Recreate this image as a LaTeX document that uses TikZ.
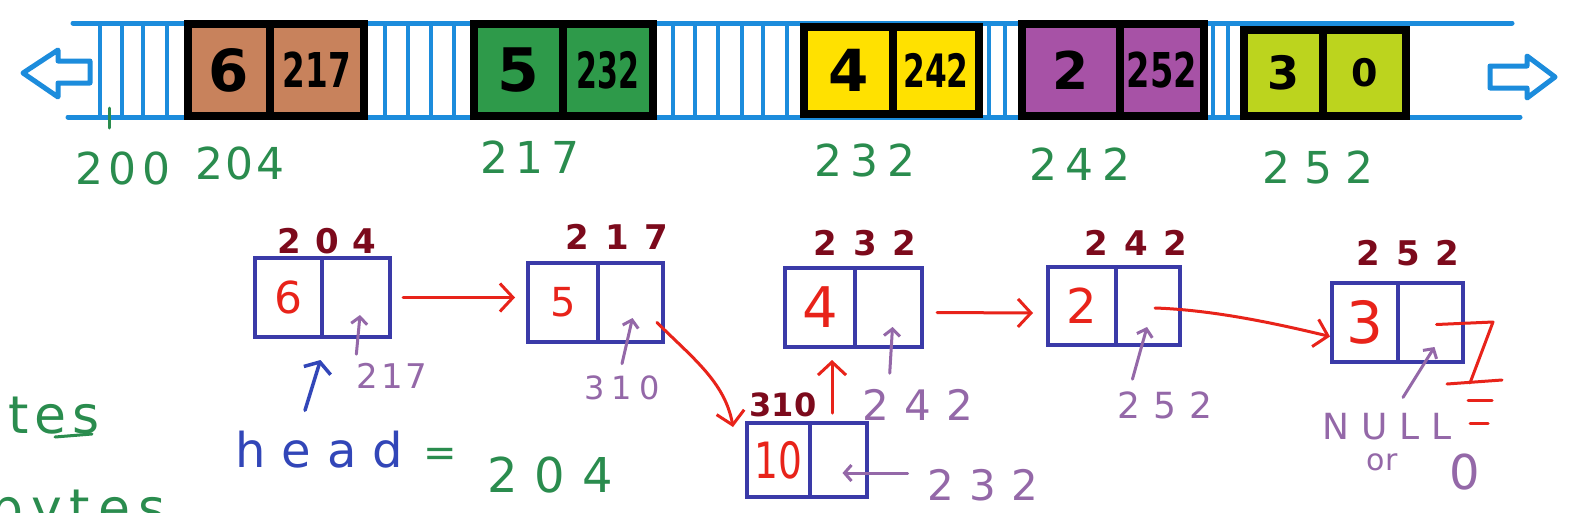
\documentclass[tikz,border=0pt]{standalone}
\usepackage{fontspec}
\setmainfont{DejaVu Sans}
\usetikzlibrary{arrows.meta,calc}
\definecolor{stripblue}{HTML}{1C8CDC}
\definecolor{cbrown}{HTML}{C8825C}
\definecolor{cgreen}{HTML}{2E9A4A}
\definecolor{cyellow}{HTML}{FFE100}
\definecolor{cpurple}{HTML}{A752A6}
\definecolor{clime}{HTML}{BCD41E}
\definecolor{lblgreen}{HTML}{2A8C4E}
\definecolor{darkred}{HTML}{7C0A1C}
\definecolor{linkred}{HTML}{E8231A}
\definecolor{annpurple}{HTML}{9468A8}
\definecolor{boxblue}{HTML}{3A3AA8}
\definecolor{headblue}{HTML}{3246B8}
\newcommand\fs[1]{\fontsize{#1}{#1}\selectfont}
\ExplSyntaxOn
\bool_new:N \l_sp_first_bool
\NewDocumentCommand\spaced{mm}{
  \bool_set_true:N \l_sp_first_bool
  \tl_map_inline:nn {#2}{
    \bool_if:NF \l_sp_first_bool {\kern #1\relax}
    \bool_set_false:N \l_sp_first_bool
    ##1
  }
}
\ExplSyntaxOff
\tikzset{
 blk/.style={draw=black, line width=8pt, inner sep=0pt, outer sep=0pt, anchor=north west, font=\bfseries},
 cell/.style={draw=boxblue, line width=3.5pt, inner sep=0pt, outer sep=0pt, anchor=north west, text=linkred},
 link/.style={draw=linkred, line width=3pt, line cap=round, -{Straight Barb[length=13pt,width=28pt]}},
 ann/.style={draw=annpurple, line width=3pt, line cap=round, -{Straight Barb[length=7pt,width=16pt]}},
 headarrow/.style={draw=headblue, line width=3.5pt, line cap=round, -{Straight Barb[length=9pt,width=28pt]}},
 addr/.style={text=lblgreen, inner sep=0pt},
 nlabel/.style={text=darkred, inner sep=0pt, font=\bfseries},
 plabel/.style={text=annpurple, inner sep=0pt},
 stripe/.style={draw=stripblue, line width=3.5pt},
 rail/.style={draw=stripblue, line width=5pt, line cap=round, line join=round},
 gnd/.style={draw=linkred, line width=3pt, line cap=round, line join=round},
}
\begin{document}
\begin{tikzpicture}[x=1pt,y=-1pt]
\useasboundingbox (0,0) rectangle (1587,512);
\fill[white] (0,0) rectangle (1587,512);
\clip (0,0) rectangle (1587,512);

% memory strip
\draw[rail] (73,23) -- (1512,23);
\draw[rail] (68,117) -- (1520,117);
\foreach \x in {100,122,143,167,385,408,431,454,673,695,718,742,763,787,989,1005,1213,1228}
  \draw[stripe] (\x,23) -- (\x,117);
\draw[rail] (23,73) -- (58,50) -- (58,61) -- (90,61) -- (90,83) -- (58,83) -- (58,97) -- cycle;
\draw[rail] (1490,66) -- (1527,66) -- (1527,56) -- (1555,77) -- (1527,98) -- (1527,88) -- (1490,88) -- cycle;

% memory blocks
\node[blk, fill=cbrown, minimum width=82, minimum height=92] (m204v) at (188,24) {\fs{58}6};
\node[blk, fill=cbrown, minimum width=94, minimum height=92] (m204p) at (m204v.north east) {\scalebox{0.68}[1]{\fs{48}217}};
\node[blk, fill=cgreen, minimum width=89, minimum height=92] (m217v) at (474,24) {\fs{60}5};
\node[blk, fill=cgreen, minimum width=90, minimum height=92] (m217p) at (m217v.north east) {\scalebox{0.6}[1]{\fs{50}232}};
\node[blk, fill=cyellow, minimum width=89, minimum height=87] (m232v) at (804,27) {\fs{58}4};
\node[blk, fill=cyellow, minimum width=86, minimum height=87] (m232p) at (m232v.north east) {\scalebox{0.68}[1]{\fs{46}242}};
\node[blk, fill=cpurple, minimum width=98, minimum height=92] (m242v) at (1022,24) {\fs{52}2};
\node[blk, fill=cpurple, minimum width=84, minimum height=92] (m242p) at (m242v.north east) {\scalebox{0.7}[1]{\fs{48}252}};
\node[blk, fill=clime, minimum width=79, minimum height=86] (m252v) at (1244,30) {\fs{46}3};
\node[blk, fill=clime, minimum width=83, minimum height=86] (m252p) at (m252v.north east) {\fs{38}0};

% addresses under strip
\draw[lblgreen, line width=3pt, line cap=round] (109,108) -- (109,128);
\node[addr] (g200) at (123,168) {\fs{44}\spaced{6pt}{200}};
\node[addr] (g204) at (240,163) {\fs{44}\spaced{3pt}{204}};
\node[addr] (g217) at (530,157) {\fs{44}\spaced{8pt}{217}};
\node[addr] (g232) at (865,160) {\fs{44}\spaced{9pt}{232}};
\node[addr] (g242) at (1080,164) {\fs{44}\spaced{9pt}{242}};
\node[addr] (g252) at (1318,167) {\fs{44}\spaced{14pt}{252}};

% linked list nodes
\node[cell, minimum width=67, minimum height=79] (v204) at (255,258) {\fs{44}6};
\node[cell, minimum width=68, minimum height=79] (p204) at (v204.north east) {};
\node[cell, minimum width=70, minimum height=79] (v217) at (528,263) {\fs{40}5};
\node[cell, minimum width=65, minimum height=79] (p217) at (v217.north east) {};
\node[cell, minimum width=70, minimum height=79] (v232) at (785,268) {\fs{56}4};
\node[cell, minimum width=67, minimum height=79] (p232) at (v232.north east) {};
\node[cell, minimum width=63, minimum height=74] (v310) at (747,423) {\scalebox{0.75}[1]{\fs{50}10}};
\node[cell, minimum width=57, minimum height=74] (p310) at (v310.north east) {};
\node[cell, minimum width=68, minimum height=78] (v242) at (1048,267) {\fs{48}2};
\node[cell, minimum width=64, minimum height=78] (p242) at (v242.north east) {};
\node[cell, minimum width=66, minimum height=79] (v252) at (1332,283) {\fs{58}3};
\node[cell, minimum width=65, minimum height=79] (p252) at (v252.north east) {};

% address labels above nodes
\node[nlabel] (a204) at (327,241) {\fs{34}\spaced{14pt}{204}};
\node[nlabel] (a217) at (617,237) {\fs{34}\spaced{16pt}{217}};
\node[nlabel] (a232) at (865,243) {\fs{34}\spaced{16pt}{232}};
\node[nlabel] (a242) at (1136,243) {\fs{34}\spaced{16pt}{242}};
\node[nlabel] (a252) at (1408,253) {\fs{34}\spaced{16pt}{252}};
\node[nlabel] (a310) at (783,405) {\fs{32}310};

% links
\draw[link] ($(p204.east)+(13,0)$) -- ($(v217.west)+(-13,-5)$);
\draw[link] ($(p217.east)+(-6,20)$) .. controls +(35,35) and +(-8,-45) .. ($(v310.north west)+(-14,4)$);
\draw[link] ($(p310.north west)+(22,-10)$) -- ($(v232.south)+(12,13)$);
\draw[link] ($(p232.east)+(15,5)$) -- ($(v242.west)+(-15,7)$);
\draw[link] ($(p242.center)+(7,2)$) .. controls +(60,2) and +(-50,-12) .. ($(v252.west)+(-2,14)$);

% null ground
\coordinate (gs) at ($(p252.center)+(6,2)$);
\coordinate (g1) at (1493,322);
\coordinate (g2) at (1470,383);
\draw[gnd] (gs) -- (g1) -- (g2);
\draw[gnd] (1447,384) -- (1502,380);
\draw[gnd] (1468,400) -- (1492,400);
\draw[gnd] (1470,423) -- (1488,423);

% purple annotations
\node[plabel] (l217) at (392,376) {\fs{34}\spaced{3pt}{217}};
\node[plabel] (l310) at (622,388) {\fs{32}\spaced{7pt}{310}};
\node[plabel] (l242) at (918,405) {\fs{42}\spaced{15pt}{242}};
\node[plabel] (l232) at (983,485) {\fs{42}\spaced{15pt}{232}};
\node[plabel] (l252) at (1165,405) {\fs{36}\spaced{13pt}{252}};
\node[plabel] (lnull) at (1387,427) {\fs{36}\spaced{12pt}{NULL}};
\node[plabel] (lor) at (1382,462) {\fs{30}or};
\node[plabel] (lzero) at (1465,472) {\fs{48}0};
\draw[ann] ($(l217.north west)+(0,-9)$) -- ($(p204.south)+(4,-22)$);
\draw[ann] ($(l310.north)+(0,-12)$) -- ($(p217.south)+(2,-24)$);
\draw[ann] ($(l242.north west)+(27,-16)$) -- ($(p232.south)+(4,-20)$);
\draw[ann] ($(l232.west)+(-20,-12)$) -- ($(p310.center)+(4,13)$);
\draw[ann] ($(l252.north west)+(15,-12)$) -- ($(p242.south)+(-1,-18)$);
\draw[ann] ($(lnull.north)+(16,-16)$) -- ($(p252.south)+(4,-15)$);

% head
\node[anchor=base west, text=headblue, inner sep=0pt] (hd) at (235,467) {\fs{48}\spaced{16pt}{head}};
\node[addr] (heq) at (440,457) {\fs{40}=};
\node[addr] (hval) at (550,475) {\fs{48}\spaced{17pt}{204}};
\draw[headarrow] ($(hd.north west)+(70,-20)$) -- ($(v204.south)+(32,23)$);

% left margin text
\node[anchor=base west, text=lblgreen, inner sep=0pt] (tes) at (8,433) {\fs{52}\spaced{6pt}{tes}};
\draw[lblgreen, line width=3pt, line cap=round] (55,437) -- (92,434);
\node[anchor=base west, text=lblgreen, inner sep=0pt] (bytes) at (-10,526) {\fs{52}\spaced{8pt}{bytes}};
\end{tikzpicture}
\end{document}
